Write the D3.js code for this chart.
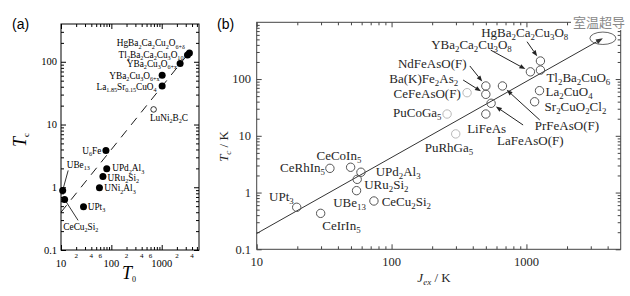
<!DOCTYPE html>
<html><head><meta charset="utf-8">
<script src="https://cdn.jsdelivr.net/npm/d3@7"></script>
<style>body{margin:0;background:#fff}</style>
</head><body>
<svg id="c" width="630" height="296" xmlns="http://www.w3.org/2000/svg"></svg>
<script>
// ---------------- Panel (a) data ----------------
const aNames = ["HgBa_2Ca_2Cu_2O_{6+δ}", "Tl_2Ba_2Ca_2Cu_3O_{10}", "YBa_2Cu_3O_{6+x}", "YBa_2Cu_3O_{6+x}",
  "La_{1.85}Sr_{0.15}CuO_4", "LuNi_2B_2C", "U_6Fe", "UPd_2Al_3", "URu_2Si_2", "UNi_2Al_3", "UPt_3", "UBe_{13}", "CeCu_2Si_2"];
const aT0 = [3550, 3250, 2320, 1020, 1020, 690, 78, 81, 68, 58, 28, 10.8, 11.8];
const aTc = [138, 128, 94, 61, 41, 17.4, 3.85, 1.97, 1.48, 0.98, 0.49, 0.89, 0.64];
const aOpen = [false, false, false, false, false, true, false, false, false, false, false, false, false];
const aLineT0 = [10, 3850];
const aLineTc = [0.4, 154];
const aXMajor = [10, 100, 1000];
const aXMajorLabels = ["10", "100", "1000"];
const aXMinorLabeled = [20, 40, 60, 200, 400, 600, 2000, 4000];
const aXMinorLabels = ["2", "4", "6", "2", "4", "6", "2", "4"];
const aYMajor = [0.1, 1, 10, 100];
const aYMajorLabels = ["0.1", "1", "10", "100"];

// ---------------- Panel (b) data ----------------
const bNames = ["UPt_3", "CeIrIn_5", "CeRhIn_5", "CeCoIn_5", "UPd_2Al_3", "URu_2Si_2", "UBe_{13}", "CeCu_2Si_2",
  "PuRhGa_5", "PuCoGa_5", "CeFeAsO(F)", "NdFeAsO(F)", "Ba(K)Fe_2As_2", "LiFeAs", "LaFeAsO(F)", "PrFeAsO(F)",
  "YBa_2Ca_2Cu_3O_8", "Tl_2Ba_2CuO_6", "HgBa_2Ca_2Cu_3O_8", "La_2CuO_4", "Sr_2CuO_2Cl_2"];
const bJex = [19.8, 29.8, 34.9, 49.7, 59.3, 55.6, 55, 74, 299, 258, 363, 500, 500, 500, 547, 664, 1070, 1270, 1270, 1250, 1150];
const bTc = [0.55, 0.43, 2.67, 2.79, 2.28, 1.71, 1.08, 0.71, 10.8, 24.2, 57.5, 75.5, 53.8, 24.2, 37.4, 75.5, 134, 144, 208, 62.4, 39.8];
const bLight = [false, false, false, false, false, false, false, false, true, true, true, false, false, false, false, false, false, false, false, false, false];
const bLineJex = [10, 3690];
const bLineTc = [0.19, 523];
const bXMajor = [10, 100, 1000];
const bXMajorLabels = ["10", "100", "1000"];
const bYMajor = [0.1, 1, 10, 100];
const bYMajorLabels = ["0.1", "1", "10", "100"];
const bTarget = "室温超导";

// ---------------- layout (label offsets, px) ----------------
const aLabelLayout = [[-4.5, -6.5, "end"], [-4, 3, "end"], [-3, 3.5, "end"], [-2.5, 3.5, "end"], [-5.5, 4, "end"],
  [-3.7, 11.6, "start"], [-4.5, 3.5, "end"], [5.5, 2.5, "start"], [4.7, 4.5, "start"], [4.8, 3.5, "start"],
  [4.2, 3.5, "start"], [4, -22.4, "start"], [-1.3, 30.6, "start"]];
const aLeaders = {11: [5.5, -20], 12: [13.5, 21]};
const bLabelLayout = [[-3, -6.3, "end"], [1.6, 16.7, "start"], [-5, 3.7, "end"], [-11.7, -7.3, "middle"],
  [14.7, 3.7, "start"], [7, 9.7, "start"], [-23.4, 16.3, "start"], [7.7, 5, "start"], [-31, 18, "start"],
  [-5.6, 3, "end"], [-6.3, 5.3, "end"], [-19.3, -18, "end"], [-27.7, -11.3, "end"], [-18.7, 19, "start"],
  [6, 41.7, "start"], [32.3, 44, "start"], [-18.7, -22.7, "end"], [6, 12, "start"], [-15.7, -24, "middle"],
  [6, 5.3, "start"], [10, 9.3, "start"]];
const bArrows = [[18, -13.4, -19.3], [16, -39.7, -21.7], [11, -16, -20], [12, -22.7, -14.3], [15, 37.3, 34], [14, 32, 21.7]];

const svg = d3.select("#c");
const SERIF = "'Liberation Serif','Times New Roman',serif";
const SANS = "'Liberation Sans',Arial,sans-serif";

function parse(s) {
  const out = []; let i = 0, buf = "";
  while (i < s.length) {
    const ch = s[i];
    if (ch === "_") {
      if (buf) { out.push({t: buf, sub: false}); buf = ""; }
      let t;
      if (s[i + 1] === "{") { const j = s.indexOf("}", i); t = s.slice(i + 2, j); i = j + 1; }
      else { let j = i + 1; while (j < s.length && /[0-9]/.test(s[j])) j++; t = s.slice(i + 1, j); i = j; }
      out.push({t, sub: true});
    } else { buf += ch; i++; }
  }
  if (buf) out.push({t: buf, sub: false});
  return out;
}
function addRich(text, str, size, subScale, shift) {
  let cur = 0;
  parse(str).forEach(sg => {
    const target = sg.sub ? size * shift : 0;
    text.append("tspan").text(sg.t).attr("font-size", sg.sub ? size * subScale : size).attr("dy", target - cur);
    cur = target;
  });
}
function minorVals(lo, hi) {
  const v = [];
  for (let d = Math.floor(Math.log10(lo)); d <= Math.ceil(Math.log10(hi)); d++)
    for (let k = 2; k <= 9; k++) { const x = k * Math.pow(10, d); if (x > lo * 1.0001 && x < hi * 0.9999) v.push(x); }
  return v;
}
function frame(g, x, y, col, majX, majY, maj, mn, sw) {
  const [x0, x1] = x.range(), [y0, y1] = y.range();
  const mx = minorVals(x.domain()[0], x.domain()[1]).filter(v => !majX.includes(v));
  const my = minorVals(y.domain()[0], y.domain()[1]).filter(v => !majY.includes(v));
  const defs = [
    [d3.axisBottom(x), y0, 0, majX, maj], [d3.axisBottom(x), y0, 0, mx, mn],
    [d3.axisTop(x), y1, 0, majX, maj], [d3.axisTop(x), y1, 0, mx, mn],
    [d3.axisLeft(y), 0, x0, majY, maj], [d3.axisLeft(y), 0, x0, my, mn],
    [d3.axisRight(y), 0, x1, majY, maj], [d3.axisRight(y), 0, x1, my, mn]];
  defs.forEach(([ax, ty, tx, vals, len]) => {
    const a = g.append("g").attr("transform", `translate(${tx},${ty})`)
      .call(ax.tickValues(vals).tickSize(-len).tickFormat(""));
    a.select(".domain").remove();
    a.selectAll("line").attr("stroke", col).attr("stroke-width", sw);
  });
  g.append("rect").attr("x", x0).attr("y", y1).attr("width", x1 - x0).attr("height", y0 - y1)
    .attr("fill", "none").attr("stroke", col).attr("stroke-width", sw);
}

// ================= Panel (a) =================
const xa = d3.scaleLog().domain([10, 5500]).range([61, 199]);
const ya = d3.scaleLog().domain([0.1, 400]).range([250, 24]);
const ga = svg.append("g");
frame(ga, xa, ya, "#000", aXMajor, aYMajor, 5, 3, 1);

ga.selectAll("text.xm").data(aXMajor).join("text").attr("x", d => xa(d)).attr("y", 267)
  .attr("text-anchor", "middle").attr("font-family", SERIF).attr("font-size", 10.5)
  .text((d, i) => aXMajorLabels[i]);
ga.selectAll("text.xn").data(aXMinorLabeled).join("text").attr("x", d => xa(d)).attr("y", 258)
  .attr("text-anchor", "middle").attr("font-family", SERIF).attr("font-size", 7)
  .text((d, i) => aXMinorLabels[i]);
ga.selectAll("text.ym").data(aYMajor).join("text").attr("x", 57).attr("y", d => ya(d) + 3.5)
  .attr("text-anchor", "end").attr("font-family", SERIF).attr("font-size", 10.5)
  .text((d, i) => aYMajorLabels[i]);

// dashed line
ga.append("path").attr("d", d3.line()([[xa(aLineT0[0]), ya(aLineTc[0])], [xa(aLineT0[1]), ya(aLineTc[1])]]))
  .attr("stroke", "#000").attr("stroke-width", 0.9).attr("stroke-dasharray", "9,7").attr("fill", "none");

// leaders
Object.entries(aLeaders).forEach(([i, o]) => {
  const px = xa(aT0[i]), py = ya(aTc[i]);
  ga.append("line").attr("x1", px + o[0]).attr("y1", py + o[1]).attr("x2", px).attr("y2", py)
    .attr("stroke", "#000").attr("stroke-width", 0.8);
});
// points
ga.selectAll("circle.p").data(aT0).join("circle")
  .attr("cx", d => xa(d)).attr("cy", (d, i) => ya(aTc[i])).attr("r", (d, i) => aOpen[i] ? 2.8 : 3.5)
  .attr("fill", (d, i) => aOpen[i] ? "#fff" : "#000").attr("stroke", "#000").attr("stroke-width", (d, i) => aOpen[i] ? 0.8 : 0);
// labels
aNames.forEach((n, i) => {
  const [dx, dy, an] = aLabelLayout[i];
  const t = ga.append("text").attr("x", xa(aT0[i]) + dx).attr("y", ya(aTc[i]) + dy)
    .attr("text-anchor", an).attr("font-family", SERIF).attr("fill", "#000");
  addRich(t, n, 9.3, 0.66, 0.24);
});
// axis titles
{
  const t = ga.append("text").attr("transform", "translate(26,147) rotate(-90)").attr("font-family", SERIF);
  t.append("tspan").text("T").attr("font-style", "italic").attr("font-size", 18);
  t.append("tspan").text("c").attr("font-size", 9).attr("dy", 3);
  const t2 = ga.append("text").attr("x", 122).attr("y", 279).attr("font-family", SERIF);
  t2.append("tspan").text("T").attr("font-style", "italic").attr("font-size", 18);
  t2.append("tspan").text("0").attr("font-size", 8).attr("dy", 3);
}
ga.append("text").attr("x", 12).attr("y", 29).attr("font-family", SANS).attr("font-size", 14).text("(a)");

// ================= Panel (b) =================
const xb = d3.scaleLog().domain([10, 5000]).range([256.7, 620.7]);
const yb = d3.scaleLog().domain([0.1, 1000]).range([249.3, 22.3]);
const gb = svg.append("g");
const bCol = "#444", bText = "#262626";
frame(gb, xb, yb, bCol, bXMajor, bYMajor, 5, 3, 1);

gb.selectAll("text.xm").data(bXMajor).join("text").attr("x", d => xb(d)).attr("y", 266)
  .attr("text-anchor", "middle").attr("font-family", SERIF).attr("font-size", 12.5).attr("fill", bText)
  .text((d, i) => bXMajorLabels[i]);
gb.selectAll("text.ym").data(bYMajor).join("text").attr("x", 251).attr("y", d => yb(d) + 4.3)
  .attr("text-anchor", "end").attr("font-family", SERIF).attr("font-size", 12.5).attr("fill", bText)
  .text((d, i) => bYMajorLabels[i]);

// regression line with arrow
{
  const p0 = [xb(bLineJex[0]), yb(bLineTc[0])], p1 = [xb(bLineJex[1]), yb(bLineTc[1])];
  gb.append("ellipse").attr("cx", p1[0]).attr("cy", p1[1]).attr("rx", 13).attr("ry", 6.2)
    .attr("fill", "none").attr("stroke", "#666").attr("stroke-width", 1);
  const ang = Math.atan2(p1[1] - p0[1], p1[0] - p0[0]);
  const L = 7, W = 2.6;
  const base = [p1[0] - L * Math.cos(ang), p1[1] - L * Math.sin(ang)];
  gb.append("path").attr("d", d3.line()([p0, base])).attr("stroke", "#333").attr("stroke-width", 1).attr("fill", "none");
  gb.append("path").attr("d", d3.line()([p1, [base[0] + W * Math.sin(ang), base[1] - W * Math.cos(ang)],
    [base[0] - W * Math.sin(ang), base[1] + W * Math.cos(ang)]]) + "Z").attr("fill", "#333");
}
// target label with white background
gb.append("rect").attr("x", 571).attr("y", 13).attr("width", 59).attr("height", 17).attr("fill", "#fff");
gb.append("text").attr("x", 573).attr("y", 27).attr("font-family", "'Noto Sans CJK SC',sans-serif")
  .attr("font-size", 13).attr("fill", "#888").text(bTarget);

// points
const R = 4.2;
gb.selectAll("circle.p").data(bJex).join("circle")
  .attr("cx", d => xb(d)).attr("cy", (d, i) => yb(bTc[i])).attr("r", R)
  .attr("fill", "none").attr("stroke", (d, i) => bLight[i] ? "#b8b8b8" : "#555").attr("stroke-width", 1);

// arrows
bArrows.forEach(([i, dx, dy]) => {
  const px = xb(bJex[i]), py = yb(bTc[i]);
  const tail = [px + dx, py + dy];
  const len = Math.hypot(dx, dy), ux = dx / len, uy = dy / len;
  const tip = [px + ux * (R + 1.5), py + uy * (R + 1.5)];
  const L = 6, W = 2.3;
  const base = [tip[0] + ux * L, tip[1] + uy * L];
  gb.append("path").attr("d", d3.line()([tail, base])).attr("stroke", "#222").attr("stroke-width", 1);
  gb.append("path").attr("d", d3.line()([tip, [base[0] - uy * W, base[1] + ux * W], [base[0] + uy * W, base[1] - ux * W]]) + "Z")
    .attr("fill", "#222");
});

// labels
bNames.forEach((n, i) => {
  const [dx, dy, an] = bLabelLayout[i];
  const t = gb.append("text").attr("x", xb(bJex[i]) + dx).attr("y", yb(bTc[i]) + dy)
    .attr("text-anchor", an).attr("font-family", SERIF).attr("fill", bText);
  addRich(t, n, 13, 0.68, 0.25);
});

// axis titles
{
  const t = gb.append("text").attr("transform", "translate(228,146.5) rotate(-90)").attr("text-anchor", "middle")
    .attr("font-family", SERIF).attr("fill", bText);
  t.append("tspan").text("T").attr("font-style", "italic").attr("font-size", 13);
  t.append("tspan").text("c").attr("font-style", "italic").attr("font-size", 9).attr("dy", 2.5);
  t.append("tspan").text(" / K").attr("font-size", 13).attr("dy", -2.5);
  const t2 = gb.append("text").attr("x", 434).attr("y", 282).attr("text-anchor", "middle")
    .attr("font-family", SERIF).attr("fill", bText);
  t2.append("tspan").text("J").attr("font-style", "italic").attr("font-size", 13);
  t2.append("tspan").text("ex").attr("font-style", "italic").attr("font-size", 9).attr("dy", 2.5);
  t2.append("tspan").text(" / K").attr("font-size", 13).attr("dy", -2.5);
}
gb.append("text").attr("x", 217).attr("y", 29).attr("font-family", SANS).attr("font-size", 14).text("(b)");
</script>
</body></html>
